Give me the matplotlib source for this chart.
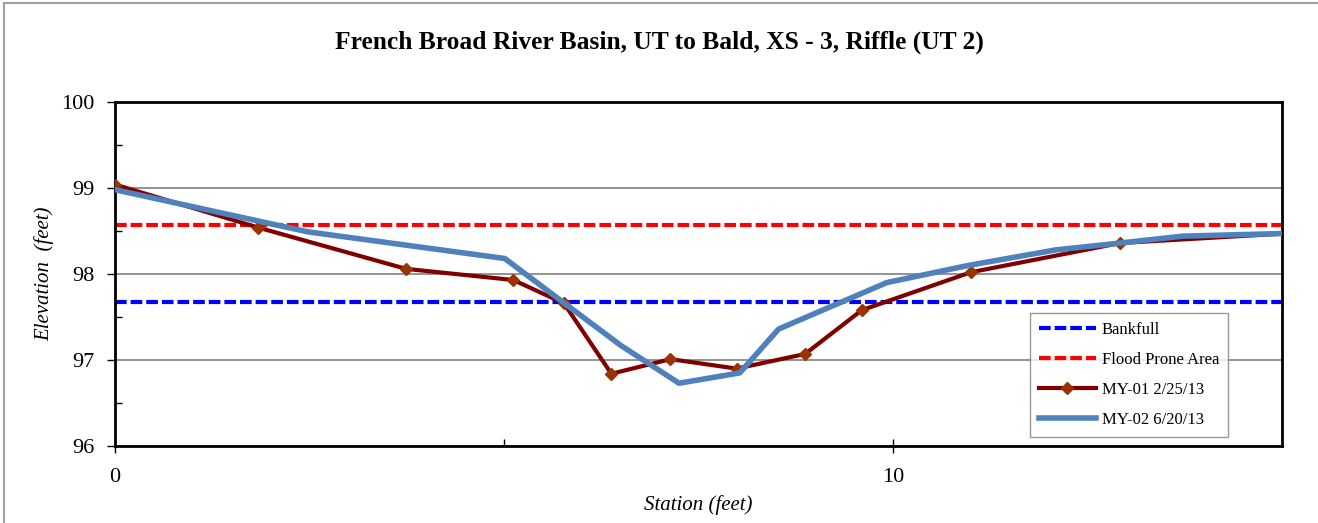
import matplotlib
matplotlib.use("Agg")
import matplotlib.pyplot as plt
from matplotlib.lines import Line2D

# cross-section survey data (station, elevation) in feet
my01_station = [0, 1.84, 3.74, 5.12, 5.77, 6.38, 7.14, 7.99, 8.87, 9.60, 11.0, 12.92, 15.4]
my01_elev = [99.04, 98.54, 98.06, 97.93, 97.66, 96.84, 97.01, 96.90, 97.07, 97.58, 98.02, 98.36, 98.49]

my02_station = [0, 2.48, 5.01, 6.50, 7.25, 8.03, 8.53, 9.92, 10.97, 12.09, 12.92, 13.72, 15.4]
my02_elev = [98.98, 98.49, 98.18, 97.17, 96.73, 96.85, 97.36, 97.90, 98.10, 98.28, 98.36, 98.44, 98.48]

bankfull = 97.67
flood_prone = 98.57

plt.rcParams['font.family'] = ['Liberation Serif', 'DejaVu Serif']

fig = plt.figure(figsize=(13.18, 5.23), dpi=100)
ax = fig.add_axes([115 / 1318, 1 - 446 / 523, 1167 / 1318, 344 / 523])

dash = (0, (2.8, 0.95))
ax.axhline(bankfull, color='#0000ff', lw=3, ls=dash, zorder=2)
ax.axhline(flood_prone, color='#ff0000', lw=3, ls=dash, zorder=2)
ax.plot(my01_station, my01_elev, color='#800000', lw=3, marker='D', ms=6,
        mfc='#993300', mec='#993300', zorder=3)
ax.plot(my02_station, my02_elev, color='#4f81bd', lw=4, zorder=4)

ax.set_xlim(0, 15)
ax.set_ylim(96, 100)
ax.set_xticks([0, 10])
ax.set_xticks([5], minor=True)
ax.set_yticks([96, 97, 98, 99, 100])
ax.set_yticks([96.5, 97.5, 98.5, 99.5], minor=True)
ax.tick_params(axis='x', which='major', direction='inout', length=10, width=1, labelsize=16, pad=11)
ax.tick_params(axis='x', which='minor', direction='in', length=5, width=1)
ax.tick_params(axis='y', which='major', direction='out', length=6, width=1, labelsize=16, pad=8.5)
ax.tick_params(axis='y', which='minor', direction='in', length=5, width=1)
ax.grid(axis='y', which='major', color='#808080', lw=1.2)
for s in ax.spines.values():
    s.set_linewidth(2)

ax.set_xlabel('Station (feet)', fontsize=15, style='italic', labelpad=6)
ax.set_ylabel('Elevation  (feet)', fontsize=15, style='italic', labelpad=5)
fig.text(0.5, 1 - 42 / 523, 'French Broad River Basin, UT to Bald, XS - 3, Riffle (UT 2)',
         ha='center', va='center', fontsize=18.4, fontweight='bold')

handles = [
    Line2D([], [], color='#0000ff', lw=3, ls=dash),
    Line2D([], [], color='#ff0000', lw=3, ls=dash),
    Line2D([], [], color='#800000', lw=3, marker='D', ms=6, mfc='#993300', mec='#993300'),
    Line2D([], [], color='#4f81bd', lw=4),
]
labels = ['Bankfull', 'Flood Prone Area', 'MY-01 2/25/13', 'MY-02 6/20/13']
leg = ax.legend(handles, labels, loc='upper left', bbox_to_anchor=(0.784, 0.387),
                borderaxespad=0, fontsize=12, frameon=True, fancybox=False, handlelength=3.4,
                labelspacing=0.84, borderpad=0.55, handletextpad=0.36)
leg.get_frame().set_edgecolor('#808080')
leg.get_frame().set_linewidth(1)

# outer chart border (left and top visible)
fig.add_artist(Line2D([4 / 1318, 4 / 1318], [0, 1 - 3 / 523], color='#a0a0a0', lw=1.5))
fig.add_artist(Line2D([4 / 1318, 1], [1 - 3 / 523, 1 - 3 / 523], color='#a0a0a0', lw=1.5))

fig.savefig('out.png', dpi=100)
